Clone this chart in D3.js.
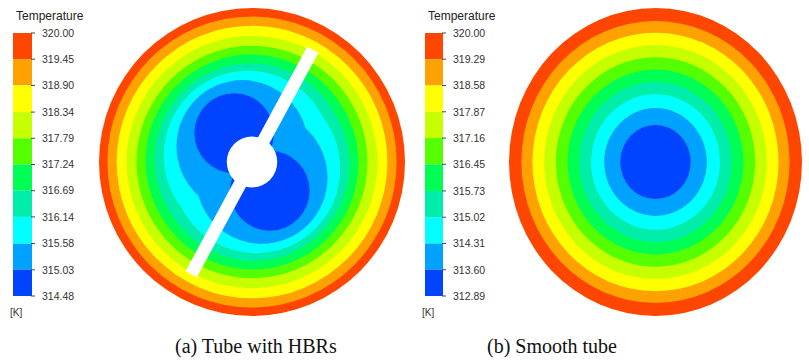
<!DOCTYPE html>
<html>
<head>
<meta charset="utf-8">
<script src="https://cdn.jsdelivr.net/npm/d3@7/dist/d3.min.js"></script>
<style>
  html, body { margin: 0; padding: 0; background: #fff; }
  svg { display: block; }
  .lbl { font-family: "Liberation Sans", Arial, sans-serif; fill: #333; }
  .cap { font-family: "Liberation Serif", "Times New Roman", serif; fill: #111; }
</style>
</head>
<body>
<svg id="chart" width="809" height="364"></svg>
<script>
// Legend levels (K) for the two cases
const hbrLevels    = [320.00, 319.45, 318.90, 318.34, 317.79, 317.24, 316.69, 316.14, 315.58, 315.03, 314.48];
const smoothLevels = [320.00, 319.29, 318.58, 317.87, 317.16, 316.45, 315.73, 315.02, 314.31, 313.60, 312.89];

// Band colours, hottest first
const bandColors = ["#ff4600", "#ffa200", "#ffff00", "#c6ff00", "#55ff00",
                    "#00ff55", "#00eeaa", "#00ffff", "#00a2ff", "#0044ff"];

// Outer extent of the region below each level (fraction of tube radius)
const hbrRadius      = [1.00, 0.945, 0.885, 0.82, 0.755, 0.69, 0.625, 0.55, 0.43, 0.26];
// Half-separation of the two cold cores beside the twisted tape
const hbrLobeOffset  = [0.00, 0.00, 0.00, 0.00, 0.00, 0.01, 0.02, 0.05, 0.12, 0.22];
const hbrLobeAngle   = -58;   // degrees, axis of the two cold cores
const smoothRadius   = [1.00, 0.915, 0.84, 0.76, 0.68, 0.60, 0.52, 0.44, 0.35, 0.24];

// Insert geometry (fraction of tube radius)
const bladeHalfLength = 0.83;
const bladeHalfWidth  = 0.042;
const bladeAngle      = 61.4;  // degrees from horizontal
const hubRadius       = 0.165;

const captions = ["(a) Tube with HBRs", "(b) Smooth tube"];

const svg = d3.select("#chart");

function drawLegend(levels, x0, y0, y1, barW) {
  const g = svg.append("g");
  const y = d3.scaleLinear().domain([levels[levels.length - 1], levels[0]]).range([y1, y0]);
  g.append("text").attr("class", "lbl")
    .attr("x", x0 + 3).attr("y", y0 - 13)
    .style("font-size", "12px").style("fill", "#222")
    .text("Temperature");
  const bands = d3.range(levels.length - 1);
  g.selectAll("rect.band").data(bands).join("rect")
    .attr("x", x0).attr("width", barW)
    .attr("y", i => y(levels[i]))
    .attr("height", i => y(levels[i + 1]) - y(levels[i]))
    .attr("fill", i => bandColors[i]);
  g.selectAll("line.tick").data(levels).join("line")
    .attr("x1", x0 + barW - 1).attr("x2", x0 + barW + 3)
    .attr("y1", d => y(d)).attr("y2", d => y(d))
    .attr("stroke", "#444").attr("stroke-width", 1);
  g.selectAll("text.tl").data(levels).join("text")
    .attr("class", "lbl")
    .attr("x", x0 + barW + 10).attr("y", d => y(d))
    .attr("dy", "0.36em")
    .style("font-size", "10.5px")
    .text(d => d.toFixed(2));
  g.append("text").attr("class", "lbl")
    .attr("x", x0 - 3).attr("y", y1 + 20)
    .style("font-size", "10px")
    .text("[K]");
}

function tubeScales(cx, cy, rx, ry) {
  return {
    x: d3.scaleLinear().domain([-1, 1]).range([cx - rx, cx + rx]),
    y: d3.scaleLinear().domain([-1, 1]).range([cy + ry, cy - ry])
  };
}

function drawHbr(cx, cy, rx, ry) {
  const s = tubeScales(cx, cy, rx, ry);
  const g = svg.append("g");
  const a = hbrLobeAngle * Math.PI / 180;
  hbrRadius.forEach((r, k) => {
    const off = hbrLobeOffset[k];
    const centres = off === 0 ? [[0, 0]] :
      [[off * Math.cos(a), off * Math.sin(a)], [-off * Math.cos(a), -off * Math.sin(a)]];
    g.selectAll(null).data(centres).join("ellipse")
      .attr("cx", d => s.x(d[0])).attr("cy", d => s.y(d[1]))
      .attr("rx", s.x(r) - s.x(0)).attr("ry", s.y(0) - s.y(r))
      .attr("fill", bandColors[k]);
  });
  // twisted tape and central rod
  const b = bladeAngle * Math.PI / 180;
  const ux = Math.cos(b), uy = Math.sin(b), nx = -uy, ny = ux;
  const L = bladeHalfLength, W = bladeHalfWidth;
  const corners = [[ L * ux + W * nx,  L * uy + W * ny], [ L * ux - W * nx,  L * uy - W * ny],
                   [-L * ux - W * nx, -L * uy - W * ny], [-L * ux + W * nx, -L * uy + W * ny]];
  g.append("path")
    .attr("d", d3.line().x(d => s.x(d[0])).y(d => s.y(d[1]))(corners) + "Z")
    .attr("fill", "#fff");
  g.append("ellipse")
    .attr("cx", s.x(0)).attr("cy", s.y(0))
    .attr("rx", s.x(hubRadius) - s.x(0)).attr("ry", s.y(0) - s.y(hubRadius))
    .attr("fill", "#fff");
}

function drawSmooth(cx, cy, rx, ry) {
  const s = tubeScales(cx, cy, rx, ry);
  const g = svg.append("g");
  g.selectAll("ellipse").data(smoothRadius).join("ellipse")
    .attr("cx", s.x(0)).attr("cy", s.y(0))
    .attr("rx", r => s.x(r) - s.x(0)).attr("ry", r => s.y(0) - s.y(r))
    .attr("fill", (r, k) => bandColors[k]);
}

drawHbr(252, 162, 153, 154);
drawSmooth(655.5, 162, 146.5, 154);
drawLegend(hbrLevels, 13, 33, 296, 19);
drawLegend(smoothLevels, 425, 33, 296, 18);

svg.selectAll("text.cap").data(captions).join("text")
  .attr("class", "cap")
  .attr("x", (d, i) => [175, 487][i]).attr("y", 353)
  .style("font-size", "20px")
  .text(d => d);
</script>
</body>
</html>
